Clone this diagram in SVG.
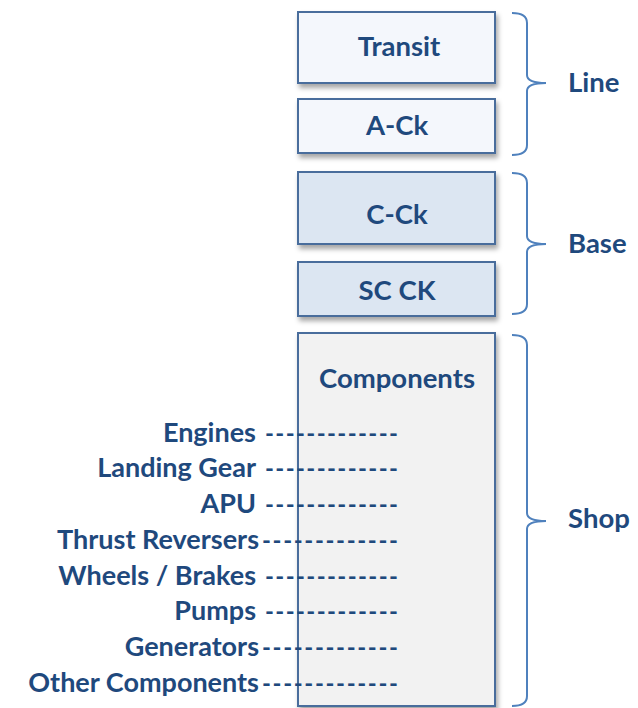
<svg xmlns="http://www.w3.org/2000/svg" width="638" height="708" viewBox="0 0 638 708">
<defs>
<filter id="sh" x="-10%" y="-10%" width="130%" height="130%">
<feDropShadow dx="2" dy="4" stdDeviation="2.5" flood-color="#000" flood-opacity="0.35"/>
</filter>
<style>
.box{stroke:#4a6d9c;stroke-width:2;filter:url(#sh)}
.lt{fill:#f4f7fc}
.md{fill:#dce6f2}
.gr{fill:#f2f2f2}
text{font-family:Lato,"Open Sans","Liberation Sans",sans-serif;font-weight:700;fill:#1f497d}
.t{font-size:27.5px;text-anchor:middle}
.g{font-size:27.5px}
.l{font-size:27px;text-anchor:end}
.d{font-size:24px}
.br{fill:none;stroke:#4f81bd;stroke-width:2}
</style>
</defs>
<rect width="638" height="708" fill="#fff"/>
<g id="transit"><rect class="box lt" x="298" y="12" width="197" height="71"/><text class="t" x="399" y="56">Transit</text></g>
<g id="ack"><rect class="box lt" x="298" y="99" width="197" height="54"/><text class="t" x="397" y="135">A-Ck</text></g>
<g id="cck"><rect class="box md" x="298" y="172" width="197" height="72"/><text class="t" x="397" y="224">C-Ck</text></g>
<g id="scck"><rect class="box md" x="298" y="262" width="197" height="54"/><text class="t" x="397" y="300">SC CK</text></g>
<g id="components"><rect class="box gr" x="298" y="333" width="197" height="373"/><text class="t" x="397" y="388">Components</text></g>
<g id="line"><path class="br" d="M512,13 Q527,13 527,23 V75 Q527,83 546,83 Q527,83 527,91 V145 Q527,155 512,155"/><text class="g" x="568" y="92">Line</text></g>
<g id="base"><path class="br" d="M512,173 Q527,173 527,183 V236 Q527,244 546,244 Q527,244 527,252 V304 Q527,314 512,314"/><text class="g" x="568" y="253">Base</text></g>
<g id="shop"><path class="br" d="M512,335 Q527,335 527,345 V513 Q527,521 546,521 Q527,521 527,529 V696 Q527,706 512,706"/><text class="g" x="568" y="528">Shop</text></g>
<g id="items">
<text class="l" x="256" y="442">Engines</text>
<text class="l" x="256" y="477">Landing Gear</text>
<text class="l" x="256" y="513">APU</text>
<text class="l" x="259" y="549">Thrust Reversers</text>
<text class="l" x="256" y="585">Wheels / Brakes</text>
<text class="l" x="256" y="620">Pumps</text>
<text class="l" x="259" y="656">Generators</text>
<text class="l" x="259" y="692">Other Components</text>
</g>
<g id="connectors">
<text class="d" x="265" y="442" textLength="133" lengthAdjust="spacing">-------------</text>
<text class="d" x="265" y="477" textLength="133" lengthAdjust="spacing">-------------</text>
<text class="d" x="265" y="513" textLength="133" lengthAdjust="spacing">-------------</text>
<text class="d" x="262" y="549" textLength="136" lengthAdjust="spacing">-------------</text>
<text class="d" x="265" y="585" textLength="133" lengthAdjust="spacing">-------------</text>
<text class="d" x="265" y="620" textLength="133" lengthAdjust="spacing">-------------</text>
<text class="d" x="262" y="656" textLength="136" lengthAdjust="spacing">-------------</text>
<text class="d" x="262" y="692" textLength="136" lengthAdjust="spacing">-------------</text>
</g>
</svg>
